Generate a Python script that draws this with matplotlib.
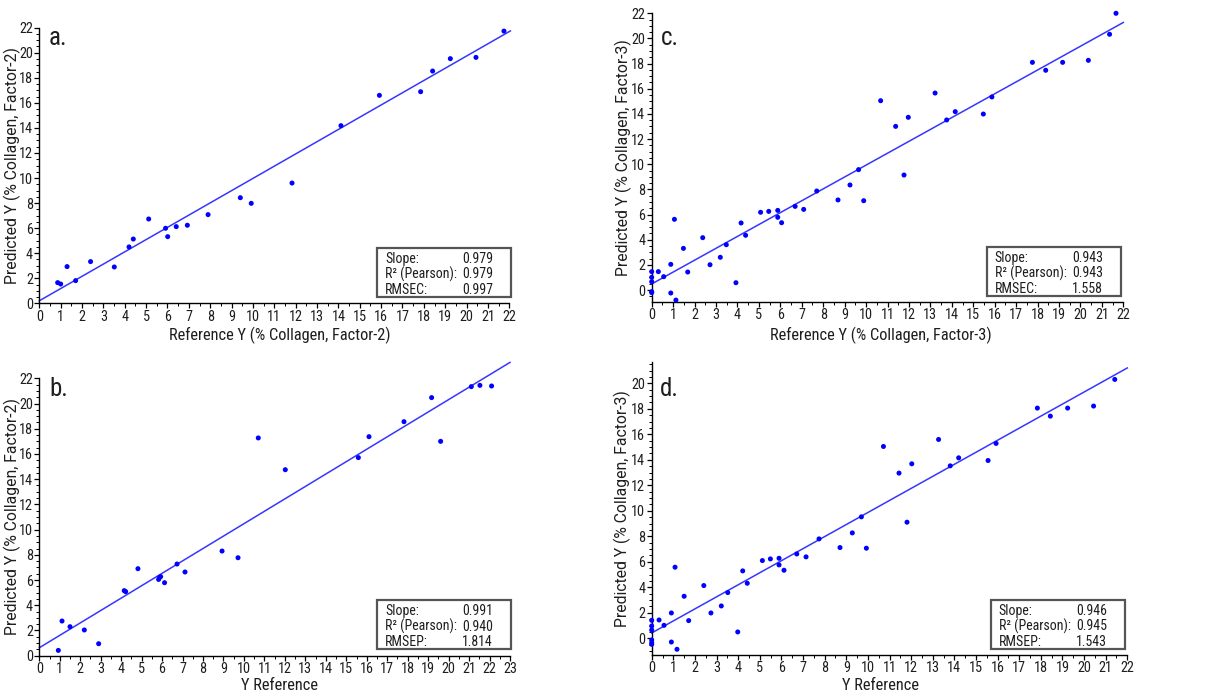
import matplotlib
matplotlib.use("Agg")
import matplotlib.pyplot as plt
from matplotlib.patches import Rectangle
from matplotlib.ticker import MultipleLocator
import numpy as np

COND = ['Roboto Condensed', 'Liberation Sans Narrow', 'DejaVu Sans']
REG = ['Roboto', 'Liberation Sans', 'DejaVu Sans']
plt.rcParams['font.family'] = COND

# ---------------- data ----------------
# Panel a: calibration, Factor-2
a_ref = [0.86, 1.0, 1.3, 1.70, 2.40, 3.51, 4.20, 4.40, 5.12, 5.91, 6.01, 6.41, 6.93, 7.90,
         9.41, 9.92, 11.83, 14.12, 15.92, 17.85, 18.41, 19.24, 20.44, 21.75]
a_pred = [1.65, 1.54, 2.93, 1.81, 3.33, 2.90, 4.50, 5.13, 6.73, 5.99, 5.32, 6.12, 6.23, 7.08,
          8.43, 7.98, 9.60, 14.18, 16.60, 16.89, 18.54, 19.53, 19.63, 21.73]

# Panel b: validation, Factor-2
b_ref = [0.93, 1.11, 1.50, 2.20, 2.90, 4.15, 4.22, 4.82, 5.83, 5.88, 5.93, 6.12, 6.73, 7.12,
         8.93, 9.71, 10.70, 12.02, 15.59, 16.11, 17.82, 19.17, 19.61, 21.11, 21.53, 22.10]
b_pred = [0.42, 2.75, 2.30, 2.04, 0.95, 5.16, 5.08, 6.90, 6.05, 6.21, 6.27, 5.79, 7.27, 6.64,
          8.30, 7.77, 17.27, 14.75, 15.71, 17.37, 18.56, 20.47, 17.00, 21.34, 21.44, 21.39]

# Panel c: calibration, Factor-3
c_ref = [0.0, 0.0, 0.0, 0.0, 0.0, 0.31, 0.56, 0.89, 0.89, 1.06, 1.13, 1.48, 1.68, 2.38,
         2.72, 3.20, 3.48, 3.93, 4.17, 4.38, 5.08, 5.46, 5.88, 5.88, 6.06, 6.69, 7.09, 7.70,
         8.69, 9.25, 9.65, 9.89, 10.68, 11.38, 11.77, 11.97, 13.22, 13.76, 14.16, 15.47,
         15.87, 17.76, 18.38, 19.17, 20.37, 21.36, 21.66]
c_pred = [1.46, 1.01, 0.66, -0.13, -0.21, 1.46, 1.06, 2.04, -0.24, 5.62, -0.80, 3.31, 1.43,
          4.16, 2.01, 2.60, 3.60, 0.58, 5.33, 4.35, 6.18, 6.25, 6.33, 5.78, 5.35, 6.65, 6.41,
          7.87, 7.16, 8.35, 9.57, 7.10, 15.05, 13.01, 9.14, 13.73, 15.66, 13.52, 14.18, 13.99,
          15.35, 18.10, 17.47, 18.10, 18.26, 20.33, 22.0]

# Panel d: validation, Factor-3
d_ref = [0.0, 0.0, 0.0, 0.0, 0.0, 0.0, 0.34, 0.57, 0.91, 0.91, 1.08, 1.17, 1.50, 1.71, 2.41,
         2.74, 3.22, 3.52, 3.98, 4.21, 4.42, 5.12, 5.49, 5.89, 5.89, 6.12, 6.71, 7.14, 7.74,
         8.71, 9.28, 9.70, 9.93, 10.72, 11.44, 11.81, 12.03, 13.27, 13.81, 14.20, 15.56,
         15.93, 17.84, 18.44, 19.24, 20.44, 21.42]
d_pred = [1.41, 0.97, 0.65, -0.13, -0.34, -0.47, 1.44, 1.02, 1.99, -0.29, 5.58, -0.86, 3.30,
          1.39, 4.14, 1.99, 2.54, 3.59, 0.50, 5.29, 4.32, 6.10, 6.23, 6.28, 5.76, 5.34, 6.62,
          6.39, 7.80, 7.12, 8.27, 9.53, 7.07, 15.05, 12.96, 9.11, 13.69, 15.60, 13.53, 14.16,
          13.95, 15.29, 18.06, 17.43, 18.06, 18.22, 20.31]

# fitted lines (intercept, slope) as drawn
fit_a = (0.20, 0.977)
fit_b = (0.63, 0.984)
fit_c = (0.48, 0.945)
fit_d = (0.42, 0.945)

labels = ['a.', 'b.', 'c.', 'd.']
xlabels = ['Reference Y (% Collagen, Factor-2)', 'Y Reference',
           'Reference Y (% Collagen, Factor-3)', 'Y Reference']
ylabels = ['Predicted Y (% Collagen, Factor-2)', 'Predicted Y (% Collagen, Factor-2)',
           'Predicted Y (% Collagen, Factor-3)', 'Predicted Y (% Collagen, Factor-3)']
stat_names = [['Slope:', 'R² (Pearson):', 'RMSEC:'],
              ['Slope:', 'R² (Pearson):', 'RMSEP:'],
              ['Slope:', 'R² (Pearson):', 'RMSEC:'],
              ['Slope:', 'R² (Pearson):', 'RMSEP:']]
stat_vals = [['0.979', '0.979', '0.997'],
             ['0.991', '0.940', '1.814'],
             ['0.943', '0.943', '1.558'],
             ['0.946', '0.945', '1.543']]

# ---------------- layout ----------------
W, H = 1231, 698
fig = plt.figure(figsize=(W / 100, H / 100), dpi=100)


def rect(l, r, t, b):
    return [l / W, 1 - b / H, (r - l) / W, (b - t) / H]


panels = [
    dict(rect=rect(39.3, 509.3, 27.7, 303.3), xlim=(0, 22), ylim=(0, 22), yt=np.arange(0, 23, 2),
         xt=np.arange(0, 23), x=a_ref, y=a_pred, fit=fit_a, xend=22.05,
         box=(377, 511, 248, 297), lab=(49, 45), ylc=(-0.058, 0.5), xlc=(0.511, -0.115)),
    dict(rect=rect(39.3, 510, 378.3, 655.7), xlim=(0, 23), ylim=(0, 22), yt=np.arange(0, 23, 2),
         xt=np.arange(0, 24), x=b_ref, y=b_pred, fit=fit_b, xend=23.0,
         box=(377, 511, 600.3, 649), lab=(49, 396), ylc=(-0.058, 0.5), xlc=(0.511, -0.109)),
    dict(rect=rect(651.7, 1123.3, 13.3, 301.7), xlim=(0, 22), ylim=(-0.93, 22), yt=np.arange(0, 23, 2),
         xt=np.arange(0, 23), x=c_ref, y=c_pred, fit=fit_c, xend=22.0,
         box=(986.7, 1121, 246.7, 296), lab=(661, 45), ylc=(-0.061, 0.5), xlc=(0.486, -0.117)),
    dict(rect=rect(651.7, 1127.3, 361.7, 654.9), xlim=(0, 22), ylim=(-1.3, 21.7), yt=np.arange(0, 21, 2),
         xt=np.arange(0, 23), x=d_ref, y=d_pred, fit=fit_d, xend=22.0,
         box=(990.7, 1125, 600, 649), lab=(660, 396), ylc=(-0.061, 0.5), xlc=(0.481, -0.106)),
]

text_col = '#1e1e1e'
for i, p in enumerate(panels):
    ax = fig.add_axes(p['rect'])
    ax.set_xlim(*p['xlim'])
    ax.set_ylim(*p['ylim'])
    for s in ['top', 'right']:
        ax.spines[s].set_visible(False)
    for s in ['left', 'bottom']:
        ax.spines[s].set_linewidth(1.0)
        ax.spines[s].set_color('black')
    ax.set_xticks(p['xt'])
    ax.set_yticks(p['yt'])
    ax.xaxis.set_minor_locator(MultipleLocator(0.5))
    ax.yaxis.set_minor_locator(MultipleLocator(0.5))
    ax.tick_params(which='major', length=3.5, width=0.9, labelsize=10.3, pad=1.2,
                   colors='black', labelcolor=text_col)
    ax.tick_params(which='minor', length=2, width=0.7, colors='black')
    ax.set_xlabel(xlabels[i], fontsize=11.8, color=text_col, va='center')
    ax.xaxis.set_label_coords(*p['xlc'])
    ax.set_ylabel(ylabels[i], fontsize=11.3, color=text_col, family=REG, va='center')
    ax.yaxis.set_label_coords(*p['ylc'])
    ax.patch.set_alpha(0)

    b0, m = p['fit']
    xs = np.array([0.0, p['xend']])
    ax.plot(xs, b0 + m * xs, color='#3636ff', lw=1.1, clip_on=False, zorder=2)
    ax.scatter(p['x'], p['y'], s=13, color='#0000ff', edgecolors='none', zorder=3, clip_on=False)

    # panel label
    lx, ly = p['lab']
    fig.text(lx / W, 1 - ly / H, labels[i], fontsize=18, color=text_col,
             ha='left', va='baseline')

    # statistics box
    bl, br, bt, bb = p['box']
    fig.add_artist(Rectangle((bl / W, 1 - bb / H), (br - bl) / W, (bb - bt) / H,
                             transform=fig.transFigure, facecolor='white',
                             edgecolor='#555555', lw=1.6, zorder=5))
    for k in range(3):
        yy = bt + 11 + k * 15.5
        fig.text((bl + 8) / W, 1 - yy / H, stat_names[i][k], fontsize=10, color=text_col,
                 ha='left', va='center', zorder=6)
        fig.text((br - 18) / W, 1 - yy / H, stat_vals[i][k], fontsize=10, color=text_col,
                 ha='right', va='center', zorder=6)

fig.savefig('out.png', dpi=100)
